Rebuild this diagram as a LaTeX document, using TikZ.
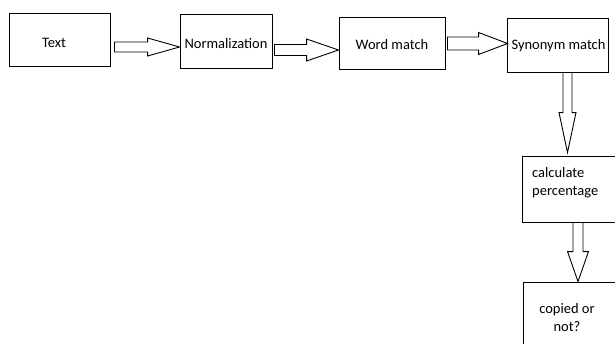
\documentclass[tikz,border=0pt]{standalone}
\usepackage{fontspec}
\setmainfont{Carlito}
\usetikzlibrary{calc}

% block arrow pointing right: #1 start, #2 tip, #3 shaft half-width, #4 head half-width, #5 head length
\newcommand\blockright[5]{%
  \draw[blockarrow] ($(#1)+(0,-#3)$) -- ($(#2)+(-#5,-#3)$) -- ($(#2)+(-#5,-#4)$) -- (#2)
    -- ($(#2)+(-#5,#4)$) -- ($(#2)+(-#5,#3)$) -- ($(#1)+(0,#3)$) -- cycle;}
% block arrow pointing down (y grows downwards)
\newcommand\blockdown[5]{%
  \draw[blockarrow] ($(#1)+(-#3,0)$) -- ($(#2)+(-#3,-#5)$) -- ($(#2)+(-#4,-#5)$) -- (#2)
    -- ($(#2)+(#4,-#5)$) -- ($(#2)+(#3,-#5)$) -- ($(#1)+(#3,0)$) -- cycle;}

\begin{document}
\begin{tikzpicture}[x=1pt,y=-1pt,
  lbl/.style={font=\fontsize{14.5}{18}\selectfont},
  box/.style={draw, line width=0.9pt, inner sep=0pt, lbl},
  blockarrow/.style={draw, line width=0.9pt, line join=miter}]
\useasboundingbox (0,0) rectangle (615,343);
\clip (0,0) rectangle (615,343);

% process boxes, captions set slightly off centre
\node[box, minimum width=101pt, minimum height=53pt,
      label={[lbl, xshift=-5.5pt, yshift=-3pt]center:Text}] (text) at (59.5,39.5) {};
\node[box, minimum width=92pt, minimum height=54pt,
      label={[lbl, yshift=-3pt]center:Normalization}] (norm) at (226,41) {};
\node[box, minimum width=106pt, minimum height=52pt,
      label={[lbl, yshift=-2pt]center:Word match}] (word) at (392,43) {};
\node[box, minimum width=101pt, minimum height=54pt,
      label={[lbl, xshift=1pt, yshift=-1pt]center:Synonym match}] (syn) at (557.5,45) {};
\node[box, minimum width=96pt, minimum height=66pt] (calc) at (570,189) {};
\node[box, minimum width=95pt, minimum height=68pt] (copied) at (570.5,316) {};

% texts of the lower boxes
\node[lbl, align=left, anchor=west, inner sep=0pt] (calctext) at (532,183) {calculate\\percentage};
\node[lbl, align=center, inner sep=0pt] (copiedtext) at (567,318) {copied or\\not?};

% connectors
\coordinate (a1t) at ($(norm.west)+(0,6)$);
\coordinate (a1s) at ($(text.east |- a1t)+(4,0)$);
\blockright{a1s}{a1t}{5}{9}{32}

\coordinate (a2t) at ($(word.west)+(0,7)$);
\coordinate (a2s) at ($(norm.east |- a2t)+(2,0)$);
\blockright{a2s}{a2t}{5.5}{11}{32}

\coordinate (a3t) at ($(syn.west)+(1,-1.5)$);
\coordinate (a3s) at ($(word.east |- a3t)+(2,0)$);
\blockright{a3s}{a3t}{6.5}{11}{29}

\coordinate (a4s) at ($(syn.south)+(10,0)$);
\coordinate (a4t) at ($(a4s |- calc.north)+(0,-3)$);
\blockdown{a4s}{a4t}{4.5}{8.5}{40}

\coordinate (a5s) at ($(calc.south)+(8,0)$);
\coordinate (a5t) at (a5s |- copied.north);
\blockdown{a5s}{a5t}{5}{10.5}{30}
\end{tikzpicture}
\end{document}
